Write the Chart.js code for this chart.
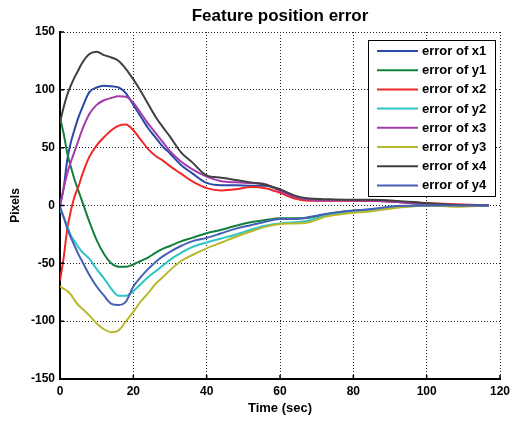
<!DOCTYPE html>
<html>
<head>
<meta charset="utf-8">
<script src="https://cdn.jsdelivr.net/npm/chart.js@4/dist/chart.umd.min.js"></script>
<style>
  body { margin: 0; background: #fff; }
  #wrap { width: 512px; height: 422px; }
</style>
</head>
<body>
<div id="wrap"><canvas id="myChart" width="512" height="422"></canvas></div>
<script>
// time axis (sec) shared by all curves
var time = [0, 1, 2, 3, 4, 5, 6, 8, 10, 12, 14, 16, 18, 20, 22, 24, 26, 28, 30, 33, 36, 40, 44, 48, 52, 56, 60, 64, 68, 72, 78, 85, 92, 100, 108, 117];

var errX1 = [0, 15, 40, 55, 66, 76, 84, 98, 102, 103.5, 103, 102, 97, 87, 77, 67, 59, 51, 45, 35, 28, 19.5, 17.5, 17.5, 17, 17, 13.5, 8, 5, 4.5, 4.5, 4, 3, 1, 0, 0];
var errY1 = [76, 62, 45, 33, 22, 13, 4, -14, -30, -42, -50, -53, -53, -51, -48, -45, -41, -37.5, -35, -31, -28, -24, -21, -17.5, -14.5, -12.5, -11, -11, -10.5, -8, -5, -3.5, -1, 0, 0, 0];
var errX2 = [-65, -45, -20, -4, 8, 16, 26, 42, 52, 59, 65, 69, 70, 65, 57, 49, 43, 39, 34, 27.5, 21, 15, 13, 14, 16, 15, 11, 6, 4, 4, 4, 4, 3, 2, 1, 0];
var errY2 = [-4, -10, -18, -26, -31, -36, -40, -46, -55, -63, -72, -78, -78, -74, -68, -62, -57, -52, -47, -41, -36, -32, -28.5, -25, -21, -17.5, -15.5, -14.5, -13, -9, -6, -4, -1.5, 0, 0, 0];
var errX3 = [0, 15, 28, 38, 47, 56, 65, 79, 87, 91, 93, 94.5, 94, 89, 80, 71, 63, 55, 47, 38, 31.5, 25, 21, 20, 19.5, 18.5, 12.5, 7.5, 5, 4.5, 4.5, 4, 3, 1.5, 0.5, 0];
var errY3 = [-70, -72, -74, -77, -82, -86, -89, -95, -102, -107, -109.5, -108, -100, -92, -83, -76, -68, -62, -56, -48, -43, -37, -32, -27, -22.5, -18.5, -16, -15.5, -14.5, -10, -7, -5, -2, 0, -1, 0];
var errX4 = [72, 85, 96, 104, 111, 117, 123, 131, 133, 130, 128, 125, 118, 109, 99, 88, 77, 68, 59.5, 46, 37.5, 26, 24, 22, 20, 18, 14, 8.5, 6, 5.5, 5, 5, 4, 2, 0.5, 0];
var errY4 = [-1, -10, -20, -28, -35, -42, -48, -60, -70, -78, -85, -86, -83, -70, -62, -55, -49, -44, -40, -35, -31, -28, -24, -20, -17, -14, -11.7, -11.7, -10, -7.5, -5, -3, -0.5, 0, 0, 0];

var labels = ['error of x1', 'error of y1', 'error of x2', 'error of y2', 'error of x3', 'error of y3', 'error of x4', 'error of y4'];
var series = [errX1, errY1, errX2, errY2, errX3, errY3, errX4, errY4];
var colors = ['#2b4aa8', '#12803e', '#f02828', '#2ec4c4', '#a43ca8', '#b8b82c', '#404040', '#4660b8'];

var xTicks = [0, 20, 40, 60, 80, 100, 120];
var yTicks = [-150, -100, -50, 0, 50, 100, 150];

var fontName = "'Liberation Sans', Arial, sans-serif";

function points(vals) {
    return vals.map(function (v, i) { return { x: time[i], y: v }; });
}

var datasets = series.map(function (s, i) {
    return {
        label: labels[i],
        data: points(s),
        borderColor: colors[i],
        backgroundColor: colors[i],
        borderWidth: 2,
        pointRadius: 0,
        cubicInterpolationMode: 'monotone',
        order: series.length - i
    };
});

// small inward ticks + legend box like matlab
var matlabBits = {
    id: 'matlabBits',
    afterDraw: function (chart) {
        var c = chart.ctx;
        var area = chart.chartArea;
        var xs = chart.scales.x;
        var ys = chart.scales.y;

        c.save();
        c.strokeStyle = '#000';
        c.lineWidth = 1.5;
        c.beginPath();
        xTicks.forEach(function (t) {
            var px = xs.getPixelForValue(t);
            c.moveTo(px, area.bottom);
            c.lineTo(px, area.bottom - 4);
        });
        yTicks.forEach(function (t) {
            var py = ys.getPixelForValue(t);
            c.moveTo(area.left, py);
            c.lineTo(area.left + 4, py);
        });
        c.stroke();

        // legend
        var lx = 368, ly = 40, lw = 127, lh = 156;
        c.fillStyle = '#fff';
        c.fillRect(lx, ly, lw, lh);
        c.lineWidth = 1;
        c.strokeStyle = '#000';
        c.strokeRect(lx + 0.5, ly + 0.5, lw, lh);
        c.font = 'bold 13px ' + fontName;
        c.textBaseline = 'middle';
        c.textAlign = 'left';
        labels.forEach(function (lab, i) {
            var yy = 51 + i * 19.2;
            c.strokeStyle = colors[i];
            c.lineWidth = 2;
            c.beginPath();
            c.moveTo(377, yy);
            c.lineTo(418, yy);
            c.stroke();
            c.fillStyle = '#000';
            c.fillText(lab, 422, yy + 0.5);
        });
        c.restore();
    }
};

var ctx = document.getElementById('myChart');

var myChart = new Chart(ctx, {
    type: 'line',
    data: { datasets: datasets },
    options: {
        responsive: false,
        devicePixelRatio: 1,
        animation: false,
        layout: { padding: { left: 0, right: 12, top: 0, bottom: 0 } },
        plugins: {
            legend: { display: false },
            tooltip: { enabled: false },
            title: {
                display: true,
                text: 'Feature position error',
                color: '#000',
                fullSize: false,
                font: { family: fontName, size: 17, weight: 'bold' },
                padding: { top: 6, bottom: 5.6 }
            }
        },
        scales: {
            x: {
                type: 'linear',
                min: 0,
                max: 120,
                afterFit: function (scale) {
                    scale.height = 43;
                    scale.paddingRight = 0;
                    scale.paddingLeft = 0;
                },
                afterBuildTicks: function (scale) {
                    scale.ticks = xTicks.map(function (v) { return { value: v }; });
                },
                ticks: {
                    color: '#000',
                    padding: 5,
                    maxRotation: 0,
                    font: { family: fontName, size: 12, weight: 'bold' }
                },
                grid: { color: '#222', lineWidth: 1, drawTicks: false },
                border: { display: true, color: '#000', width: 2, dash: [1, 2] },
                title: {
                    display: true,
                    text: 'Time (sec)',
                    color: '#000',
                    font: { family: fontName, size: 13, weight: 'bold' },
                    padding: { top: 0, bottom: 6 }
                }
            },
            y: {
                min: -150,
                max: 150,
                afterFit: function (scale) { scale.width = 60; },
                afterBuildTicks: function (scale) {
                    scale.ticks = yTicks.map(function (v) { return { value: v }; });
                },
                ticks: {
                    color: '#000',
                    padding: 5,
                    font: { family: fontName, size: 12, weight: 'bold' }
                },
                grid: { color: '#222', lineWidth: 1, drawTicks: false },
                border: { display: true, color: '#000', width: 2, dash: [1, 2] },
                title: {
                    display: true,
                    text: 'Pixels',
                    color: '#000',
                    font: { family: fontName, size: 12, weight: 'bold' },
                    padding: { top: 8, bottom: 0 }
                }
            }
        }
    },
    plugins: [matlabBits]
});
</script>
</body>
</html>
